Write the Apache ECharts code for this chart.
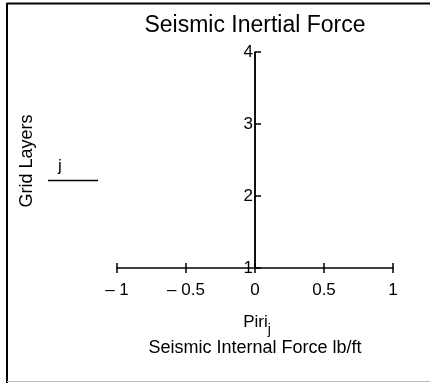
<!DOCTYPE html>
<html><head><meta charset="utf-8">
<script src="https://cdn.jsdelivr.net/npm/echarts@6/dist/echarts.min.js"></script>
<style>html,body{margin:0;padding:0;background:#fff}#c{width:430px;height:383px}</style>
</head><body><div id="c"></div>
<script>
const layers = [1, 2, 3, 4];
const force = [0, 0, 0, 0];
const xTicks = [-1, -0.5, 0, 0.5, 1];
const xTickLabels = ['\u2013 1', '\u2013 0.5', '0', '0.5', '1'];
const yTicks = [1, 2, 3, 4];
const titleText = 'Seismic Inertial Force';
const yName = 'Grid Layers';
const xName = 'Seismic Internal Force lb/ft';
const seriesName = 'j';

const chart = echarts.init(document.getElementById('c'), null, {renderer: 'canvas'});
const FONT = 'Liberation Sans, Arial, sans-serif';
const labelFmt = v => {
  const i = xTicks.findIndex(t => Math.abs(t - v) < 1e-9);
  return i >= 0 ? xTickLabels[i] : '';
};
const GL = 117, GR = 37;
const plotW = 430 - GL - GR;
// y axis sits at x = 0 of the x scale
const yAxisOffset = -plotW * (0 - (-1)) / (1 - (-1));
chart.setOption({
  animation: false,
  backgroundColor: '#fff',
  grid: {left: GL, right: GR, top: 52, bottom: 115, containLabel: false},
  xAxis: [{
    type: 'value', min: -1, max: 1, interval: 0.5, position: 'bottom',
    axisLine: {onZero: false, lineStyle: {color: '#000', width: 1.5}},
    axisTick: {inside: true, length: 5, lineStyle: {color: '#000', width: 1.5}},
    axisLabel: {formatter: labelFmt, color: '#000', fontFamily: FONT, fontSize: 17, margin: 14},
    splitLine: {show: false}
  }, {
    type: 'value', min: -1, max: 1, interval: 0.5, position: 'bottom',
    axisLine: {onZero: false, show: false},
    axisTick: {inside: false, length: 5, lineStyle: {color: '#000', width: 1.5}},
    axisLabel: {show: false}, splitLine: {show: false}
  }],
  yAxis: {
    type: 'value', min: 1, max: 4, interval: 1, position: 'left', offset: yAxisOffset,
    axisLine: {onZero: false, lineStyle: {color: '#000', width: 1.5}},
    axisTick: {inside: true, length: 6, lineStyle: {color: '#000', width: 1.5}},
    axisLabel: {color: '#000', fontFamily: FONT, fontSize: 17, margin: 2,
      formatter: v => yTicks.includes(v) ? String(v) : ''},
    splitLine: {show: false}
  },
  series: [{
    name: seriesName, type: 'line', xAxisIndex: 0,
    data: layers.map((l, i) => [force[i], l]),
    showSymbol: false, lineStyle: {color: '#000', width: 1.5}
  }],
  graphic: [
    {type: 'line', shape: {x1: 6.5, y1: 3.5, x2: 430, y2: 3.5}, style: {stroke: '#000', lineWidth: 2}},
    {type: 'line', shape: {x1: 7, y1: 3, x2: 7, y2: 383}, style: {stroke: '#000', lineWidth: 2}},
    {type: 'line', shape: {x1: 7, y1: 381.5, x2: 430, y2: 381.5}, style: {stroke: '#bbb', lineWidth: 1}},
    {type: 'text', x: 255, y: 26, style: {text: titleText, font: '23px ' + FONT, fill: '#000', textAlign: 'center', textVerticalAlign: 'middle'}},
    {type: 'text', x: 27, y: 161, rotation: Math.PI / 2,
      style: {text: yName, font: '18px ' + FONT, fill: '#000', textAlign: 'center', textVerticalAlign: 'middle'}},
    {type: 'text', x: 60, y: 175, style: {text: seriesName, font: '17px ' + FONT, fill: '#000', textAlign: 'center', textVerticalAlign: 'bottom'}},
    {type: 'line', shape: {x1: 48, y1: 180.5, x2: 98, y2: 180.5}, style: {stroke: '#000', lineWidth: 1.5}},
    {type: 'text', x: 257, y: 322, style: {text: '{a|Piri}{b|j}', textAlign: 'center', textVerticalAlign: 'middle',
      rich: {a: {font: '17px ' + FONT, fill: '#000'}, b: {font: '14px ' + FONT, fill: '#000', padding: [16, 0, 0, 0]}}}},
    {type: 'text', x: 255, y: 348, style: {text: xName, font: '18px ' + FONT, fill: '#000', textAlign: 'center', textVerticalAlign: 'middle'}}
  ]
});
</script></body></html>
